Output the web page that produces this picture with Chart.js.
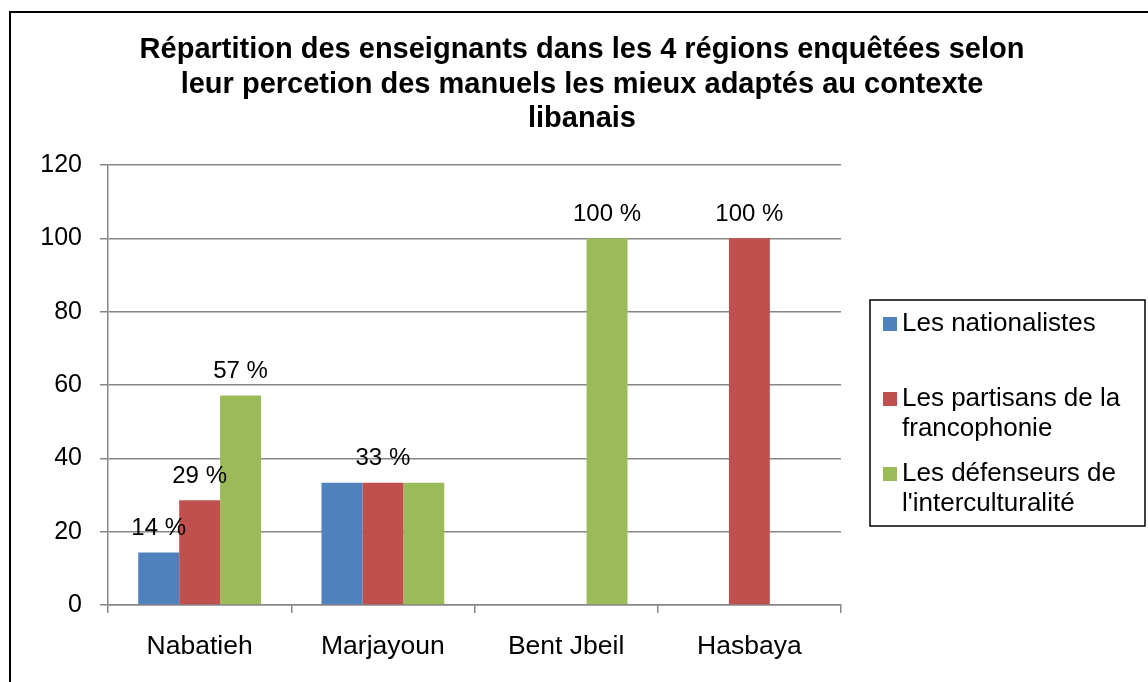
<!DOCTYPE html>
<html>
<head>
<meta charset="utf-8">
<script src="https://cdn.jsdelivr.net/npm/chart.js@4/dist/chart.umd.min.js"></script>
<style>
  html, body { margin: 0; padding: 0; background: #fff; }
  canvas { display: block; }
</style>
</head>
<body>
<canvas id="c" width="1148" height="682"></canvas>
<script>
// ---- Data ----
const titleLines = [
  "Répartition des enseignants dans les 4 régions enquêtées selon",
  "leur percetion des manuels les mieux adaptés au contexte",
  "libanais"
];
const categories = ["Nabatieh", "Marjayoun", "Bent Jbeil", "Hasbaya"];
const seriesNames = [
  ["Les nationalistes"],
  ["Les partisans de la", "francophonie"],
  ["Les défenseurs de", "l'interculturalité"]
];
const seriesColors = ["#4F81BD", "#C0504D", "#9BBB59"];
const nationalistes = [14.29, 33.33, 0, 0];
const partisans = [28.57, 33.33, 0, 100];
const defenseurs = [57.14, 33.33, 100, 0];
const labelsNationalistes = ["14 %", null, null, null];
const labelsPartisans = ["29 %", "33 %", null, "100 %"];
const labelsDefenseurs = ["57 %", null, "100 %", null];
const yMin = 0, yMax = 120, yStep = 20;

const FONT = "'Liberation Sans', Arial, sans-serif";
const GRID = "#868686";

const framePlugin = {
  id: "frame",
  beforeDraw(chart) {
    const ctx = chart.ctx;
    ctx.save();
    ctx.fillStyle = "#fff";
    ctx.fillRect(0, 0, chart.width, chart.height);
    ctx.strokeStyle = "#000";
    ctx.lineWidth = 2;
    ctx.beginPath();
    ctx.moveTo(10, chart.height);
    ctx.lineTo(10, 12);
    ctx.lineTo(chart.width, 12);
    ctx.stroke();
    // title
    ctx.fillStyle = "#000";
    ctx.font = "bold 29px " + FONT;
    ctx.textAlign = "center";
    ctx.textBaseline = "alphabetic";
    titleLines.forEach((t, i) => ctx.fillText(t, 582, 58 + i * 34.5));
    ctx.restore();
  }
};

const labelPlugin = {
  id: "valueLabels",
  afterDatasetsDraw(chart) {
    const ctx = chart.ctx;
    ctx.save();
    ctx.fillStyle = "#000";
    ctx.font = "24px " + FONT;
    ctx.textAlign = "center";
    ctx.textBaseline = "middle";
    chart.data.datasets.forEach((ds, i) => {
      const meta = chart.getDatasetMeta(i);
      meta.data.forEach((bar, j) => {
        const t = ds.valueLabels[j];
        if (!t) return;
        ctx.fillText(t, bar.x, bar.y - 24);
      });
    });
    ctx.restore();
  }
};

const legendPlugin = {
  id: "boxLegend",
  afterDraw(chart) {
    const ctx = chart.ctx;
    const a = chart.chartArea;
    const left = a.right + 29, top = 300, right = 1145, bottom = 526;
    ctx.save();
    ctx.strokeStyle = "#000";
    ctx.lineWidth = 1.5;
    ctx.strokeRect(left, top, right - left, bottom - top);
    ctx.font = "26px " + FONT;
    ctx.textAlign = "left";
    ctx.textBaseline = "middle";
    chart.data.datasets.forEach((ds, i) => {
      const y0 = top + 24 + i * 75;
      ctx.fillStyle = ds.backgroundColor;
      ctx.fillRect(left + 13, y0 - 7, 14, 14);
      ctx.fillStyle = "#000";
      ds.legendLines.forEach((line, k) => ctx.fillText(line, left + 32, y0 + k * 30));
    });
    ctx.restore();
  }
};

const valueLabelSets = [labelsNationalistes, labelsPartisans, labelsDefenseurs];
const seriesValues = [nationalistes, partisans, defenseurs];

new Chart(document.getElementById("c"), {
  type: "bar",
  data: {
    labels: categories,
    datasets: seriesValues.map((vals, i) => ({
      label: seriesNames[i].join(" "),
      legendLines: seriesNames[i],
      data: vals,
      valueLabels: valueLabelSets[i],
      backgroundColor: seriesColors[i],
      borderWidth: 0,
      categoryPercentage: 0.67,
      barPercentage: 1.0
    }))
  },
  options: {
    responsive: false,
    devicePixelRatio: 1,
    animation: false,
    layout: { padding: { left: 0, right: 307, top: 165, bottom: 0 } },
    plugins: {
      legend: { display: false },
      title: { display: false },
      tooltip: { enabled: false }
    },
    scales: {
      x: {
        afterFit(s) { s.height = 77; },
        grid: {
          display: true, drawOnChartArea: false, drawTicks: true,
          tickLength: 8, color: GRID, lineWidth: 1.5, offset: true
        },
        border: { display: true, color: GRID, width: 1.5 },
        ticks: { color: "#000", font: { family: FONT, size: 26.5 }, padding: 18 }
      },
      y: {
        min: yMin, max: yMax,
        afterFit(s) { s.width = 108; },
        grid: { color: GRID, lineWidth: 1.5, tickLength: 8, drawTicks: true },
        border: { display: true, color: GRID, width: 1.5 },
        ticks: { stepSize: yStep, color: "#000", font: { family: FONT, size: 25 }, padding: 18 }
      }
    }
  },
  plugins: [framePlugin, labelPlugin, legendPlugin]
});
</script>
</body>
</html>
